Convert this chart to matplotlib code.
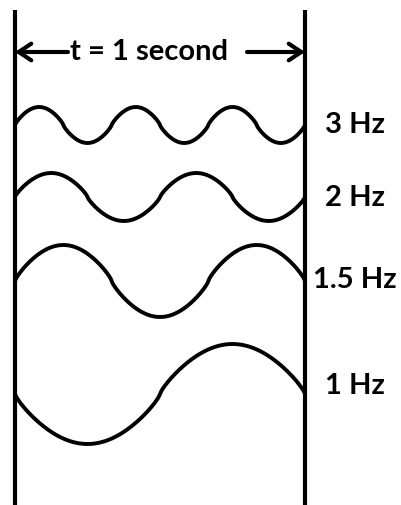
import numpy as np
import matplotlib
matplotlib.use("Agg")
import matplotlib.pyplot as plt

# wave data: frequency (Hz), label, start direction (+1 up, -1 down)
freqs = [3, 2, 1.5, 1]
labels = ["3 Hz", "2 Hz", "1.5 Hz", "1 Hz"]
direction = [1, 1, 1, -1]

# layout of each trace (pixel rows in the picture)
centers = [125, 197, 281, 394]
amps = [18, 24, 36, 50]
label_y = [125, 198, 280, 386]

W, H = 402, 505
x_left, x_right = 15, 305
span = x_right - x_left

fig = plt.figure(figsize=(W / 100, H / 100), dpi=100)
ax = fig.add_axes([0, 0, 1, 1])
ax.set_xlim(-x_left / span, (W - x_left) / span)
ax.set_ylim(H, 0)
ax.axis("off")

font = dict(family=["Lato", "DejaVu Sans"], fontweight="bold", color="black")

# the two boundary lines at t = 0 and t = 1
ax.plot([0, 0], [10, H], color="black", lw=3, solid_capstyle="butt")
ax.plot([1, 1], [10, H], color="black", lw=3, solid_capstyle="butt")

t = np.linspace(0, 1, 1200)
for f, d, c, a, lab, ly in zip(freqs, direction, centers, amps, labels, label_y):
    s = np.sin(2 * np.pi * f * t)
    # slightly rounder humps, like the hand-drawn original
    s = np.sign(s) * np.abs(s) ** 0.8
    y = c - d * a * s
    ax.plot(t, y, color="black", lw=2.8, solid_capstyle="round")
    ax.text((355 - x_left) / span, ly, lab, ha="center", va="center", fontsize=21, **font)

# t = 1 second arrow
arrow_y = 52
style = "->,head_length=0.9,head_width=0.6"
ax.annotate("", xy=(0, arrow_y), xytext=((68 - x_left) / span, arrow_y),
            arrowprops=dict(arrowstyle=style, lw=3, color="black", shrinkA=0, shrinkB=0))
ax.annotate("", xy=(1, arrow_y), xytext=((247 - x_left) / span, arrow_y),
            arrowprops=dict(arrowstyle=style, lw=3, color="black", shrinkA=0, shrinkB=0))
ax.text((149 - x_left) / span, arrow_y, "t = 1 second", ha="center", va="center", fontsize=21, **font)

fig.savefig("out.png", dpi=100)
